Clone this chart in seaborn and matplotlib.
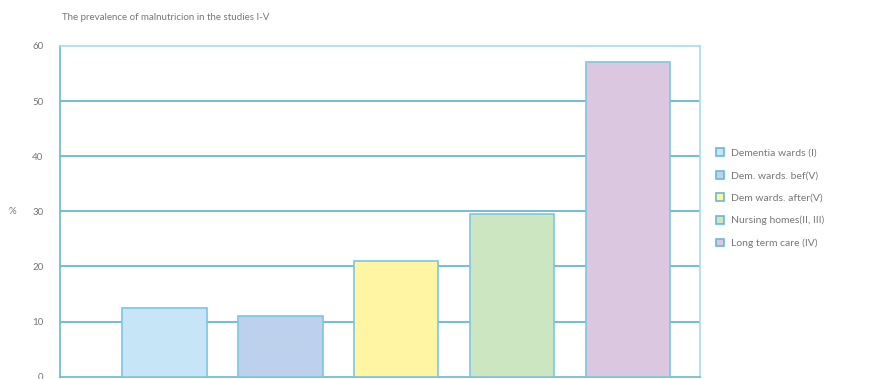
import matplotlib
matplotlib.use("Agg")
import matplotlib.pyplot as plt
import pandas as pd
import seaborn as sns

groups = ["Dementia wards (I)", "Dem. wards. bef(V)", "Dem wards. after(V)",
          "Nursing homes(II, III)", "Long term care (IV)"]
prevalence = [12.5, 11.0, 21.0, 29.5, 57.0]
bar_colours = ["#c6e6f8", "#bdd1ec", "#fff5a3", "#cde6c2", "#dcc7e1"]
yticks = [0, 10, 20, 30, 40, 50, 60]

sns.set_style("white")
plt.rcParams["font.family"] = ["Lato", "DejaVu Sans"]

df = pd.DataFrame({"group": groups, "prevalence": prevalence})

fig = plt.figure(figsize=(8.95, 3.79), dpi=100)
ax = fig.add_axes([0.067, 0.006, 0.715, 0.873])

sns.barplot(data=df, x="group", y="prevalence", hue="group", order=groups,
            hue_order=groups, palette=bar_colours, saturation=1, dodge=False,
            width=0.73, edgecolor="#7cc6df", linewidth=1.2, ax=ax, zorder=3,
            legend=True)

ax.set_xlim(-0.9, 4.62)
ax.set_ylim(0, 60)
ax.set_yticks(yticks)
ax.set_xticks([])
ax.set_xlabel("")
ax.set_ylabel("%", rotation=0, fontsize=7, color="#777777", labelpad=14, va="center")
ax.tick_params(axis="y", length=0, labelsize=7, labelcolor="#777777", pad=12)

for y in yticks[1:-1]:
    ax.axhline(y, color="#4fa9cc", linewidth=1.1, zorder=1)

for side in ["top", "right"]:
    ax.spines[side].set_color("#a8dcef")
    ax.spines[side].set_linewidth(1.2)
for side in ["left", "bottom"]:
    ax.spines[side].set_color("#6ab8d6")
    ax.spines[side].set_linewidth(1.2)

fig.text(0.069, 0.955, "The prevalence of malnutricion in the studies I-V",
         fontsize=7, color="#777777", va="center")

sns.move_legend(ax, "center left", bbox_to_anchor=(1.01, 0.54), frameon=False,
                title=None, fontsize=7.5, handlelength=0.8, handleheight=0.8,
                handletextpad=0.7, labelspacing=1.25, labelcolor="#777777")
for h in ax.get_legend().legend_handles:
    h.set_edgecolor("#6ab8d6")

fig.savefig("out.png", dpi=100)
